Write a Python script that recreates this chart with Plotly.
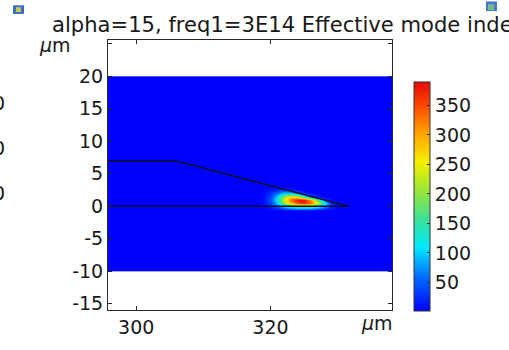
import plotly.graph_objects as go

# ---------------- data ----------------
title_text = "alpha=15, freq1=3E14 Effective mode index"
unit_label = "<i>μ</i>m"

# background computational domain (field ~ 0)
bg_x_edges = [290, 345]
bg_y_edges = [-10, 20]
bg_value = [[0.8]]

field_x = [318, 319, 320, 321, 322, 323, 324, 325, 326, 327, 328, 329, 330, 331]
field_y = [-0.5, 0.0, 0.5, 1.0, 1.5, 2.0, 2.5, 3.0, 3.5]
field_z = [
    [0, 0, 3, 8, 15, 20, 22, 22, 20, 15, 8, 3, 0, 0],
    [0, 3, 20, 60, 110, 160, 195, 205, 190, 145, 80, 28, 3, 0],
    [0, 6, 40, 105, 200, 290, 350, 368, 335, 235, 115, 28, 3, 0],
    [0, 8, 45, 120, 230, 330, 382, 389, 305, 165, 45, 6, 0, 0],
    [0, 7, 40, 110, 205, 275, 255, 165, 65, 12, 0, 0, 0, 0],
    [0, 4, 25, 60, 95, 95, 55, 18, 0, 0, 0, 0, 0, 0],
    [0, 2, 10, 22, 28, 18, 6, 0, 0, 0, 0, 0, 0, 0],
    [0, 0, 3, 6, 4, 0, 0, 0, 0, 0, 0, 0, 0, 0],
    [0, 0, 0, 0, 0, 0, 0, 0, 0, 0, 0, 0, 0, 0],
]
c_min, c_max = 0.8, 389

# geometry boundaries
ridge_x = [290, 305.9, 331.6]
ridge_y = [7, 7, 0]
base_x = [290, 331.6]
base_y = [0, 0]

x_range = [295.8, 338.1]
y_range = [-16.0, 25.6]
x_ticks = [300, 320]
y_ticks = [-15, -10, -5, 0, 5, 10, 15, 20, 25]
y_ticktext = ["-15", "-10", "-5", "0", "5", "10", "15", "20", ""]
cb_ticks = [50, 100, 150, 200, 250, 300, 350]
side_fragments = ["0", "0", "0"]

# ---------------- style ----------------
W, H = 509, 350
ML, MR, MT, MB = 108, 117, 40, 30
FONT = "DejaVu Sans"
TXT = "rgb(25,25,25)"
colorscale = [
    [0.0, "rgb(0,0,255)"],
    [0.15, "rgb(0,110,255)"],
    [0.28, "rgb(0,235,255)"],
    [0.40, "rgb(60,225,150)"],
    [0.52, "rgb(150,230,60)"],
    [0.65, "rgb(245,240,0)"],
    [0.78, "rgb(255,160,0)"],
    [0.90, "rgb(250,70,0)"],
    [1.0, "rgb(230,10,10)"],
]

pw, ph = W - ML - MR, H - MT - MB


def px(p):
    return (p - ML) / pw


def py(p):
    return 1 - (p - MT) / ph


fig = go.Figure()
fig.add_trace(go.Heatmap(x=bg_x_edges, y=bg_y_edges, z=bg_value, coloraxis="coloraxis",
                         hoverinfo="skip"))
fig.add_trace(go.Heatmap(x=field_x, y=field_y, z=field_z, coloraxis="coloraxis",
                         zsmooth="best", hoverinfo="skip"))

line_style = dict(color="rgb(15,15,45)", width=1.5)
for lx, ly in [(ridge_x, ridge_y), (base_x, base_y)]:
    fig.add_trace(go.Scatter(x=lx, y=ly, mode="lines", line=line_style,
                             showlegend=False, hoverinfo="skip"))

axis_common = dict(
    showline=True, linecolor="rgb(40,40,40)", linewidth=1, mirror="allticks",
    ticks="inside", ticklen=4, tickcolor="rgb(40,40,40)", showgrid=False,
    zeroline=False, tickfont=dict(family=FONT, size=19, color=TXT),
)
fig.update_xaxes(range=x_range, tickvals=x_ticks, **axis_common)
fig.update_yaxes(range=y_range, tickvals=y_ticks, ticktext=y_ticktext, **axis_common)

fig.update_layout(
    width=W, height=H,
    margin=dict(l=ML, r=MR, t=MT, b=MB, pad=0),
    paper_bgcolor="white", plot_bgcolor="white",
    showlegend=False,
    coloraxis=dict(
        colorscale=colorscale, cmin=c_min, cmax=c_max,
        colorbar=dict(
            x=px(414), xanchor="left", y=py(84), yanchor="top",
            lenmode="pixels", len=229, thicknessmode="pixels", thickness=16,
            xpad=0, ypad=0, outlinewidth=1, outlinecolor="rgb(50,50,50)",
            tickvals=cb_ticks, ticks="inside", ticklen=3, tickcolor="rgb(50,50,50)",
            tickfont=dict(family=FONT, size=19, color=TXT),
        ),
    ),
)

annotations = [
    dict(text=title_text, x=px(50), y=py(24), xanchor="left", yanchor="middle"),
    dict(text=unit_label, x=px(55), y=py(45), xanchor="center", yanchor="middle"),
    dict(text=unit_label, x=px(377), y=py(333), xanchor="center", yanchor="middle"),
]
for i, t in enumerate(side_fragments):
    annotations.append(dict(text=t, x=px(7), y=py(105 + 47 * i), xanchor="right", yanchor="middle"))
for a in annotations:
    a.update(xref="paper", yref="paper", showarrow=False,
             font=dict(family=FONT, size=19 if a["text"] != title_text else 21.1, color=TXT))
fig.update_layout(annotations=annotations)

# small window icons in the corners
shapes = [
    dict(type="rect", x0=px(13), x1=px(24), y0=py(13), y1=py(4),
         fillcolor="rgb(60,110,200)", line=dict(width=0)),
    dict(type="rect", x0=px(16), x1=px(21), y0=py(11), y1=py(6),
         fillcolor="rgb(200,200,90)", line=dict(width=0)),
    dict(type="rect", x0=px(486), x1=px(497), y0=py(10), y1=py(0),
         fillcolor="rgb(70,120,210)", line=dict(width=0)),
    dict(type="rect", x0=px(488), x1=px(494), y0=py(9), y1=py(3),
         fillcolor="rgb(120,190,130)", line=dict(width=0)),
]
for s in shapes:
    s.update(xref="paper", yref="paper", layer="above")
fig.update_layout(shapes=shapes)

fig.write_html("out.html")
